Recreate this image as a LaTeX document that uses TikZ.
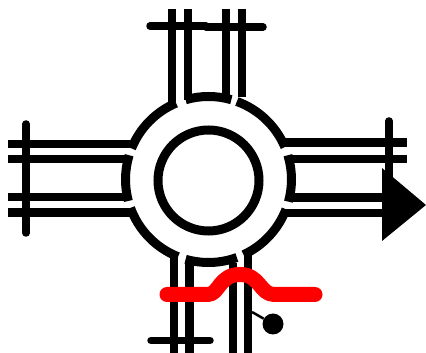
\documentclass[tikz,border=0pt]{standalone}
\usepackage{xcolor}
\usetikzlibrary{calc}

\begin{document}
\begin{tikzpicture}[
    x=1pt, y=1pt,
    lane/.style={line width=8.5pt, black},
    ring/.style={line width=9pt, black},
    bar/.style={line width=7.5pt, line cap=round, black},
    path/.style={line width=15pt, line cap=round, line join=round, red},
]
\useasboundingbox (0,0) rectangle (426,353);
\coordinate (centre) at (208.5,173.5);

% Island
\draw[ring] (208.5,172.5) circle[radius=50.5];

% Ring segments: start angle / end angle
\foreach \a/\b in {70/23, 74/106, 113/158, 163/195, 200/248.5, 254/290, 295/339, 344.5/377}
    \draw[ring] ($(centre)+(\a:83)$) arc[start angle=\a, end angle=\b, radius=83];

% North arm
\draw[lane] (172,344) -- (172,251);
\draw[lane] (188,344) -- (188,253);
\draw[lane] (226,344) -- (226,253);
\draw[lane] (242,344) -- (242,256);
\draw[bar] (150,327) -- (206,327);
\draw[bar] (206,326) -- (263,326);

% West arm
\draw[lane] (8,209) -- (130,209);
\draw[lane] (8,194) -- (126,194);
\draw[lane] (8,156) -- (126,156);
\draw[lane] (8,140.5) -- (132,140.5);
\draw[bar] (26,229) -- (26,120);

% South arm
\draw[lane] (174,0) -- (174,98);
\draw[lane] (189.5,0) -- (189.5,90);
\draw[lane] (233,0) -- (233,90);
\draw[lane] (248,0) -- (248,98);
\draw[bar] (151,12.5) -- (210,12.5);

% East arm
\draw[lane] (285,210.5) -- (407,210.5);
\draw[lane] (290,194) -- (407,194);
\draw[lane] (290,155.5) -- (385,155.5);
\draw[lane] (285,140) -- (385,140);
\draw[bar] (389,232) -- (389,175);
\fill (382,185) -- (426,148) -- (382,112) -- cycle;

% Crossing
\draw[path] (167,58.5) -- (208,58.5) .. controls (219,58.5) and (219,78.5) .. (240,78.5) .. controls (260,78.5) and (260,58.5) .. (274,58.5) -- (315,58.5);

% Signal
\coordinate (post) at (252,41);
\node[circle, fill=black, inner sep=0pt, minimum size=21pt] (lamp) at (273,29) {};
\draw[line width=2.5pt] (post) -- (lamp);
\end{tikzpicture}
\end{document}
